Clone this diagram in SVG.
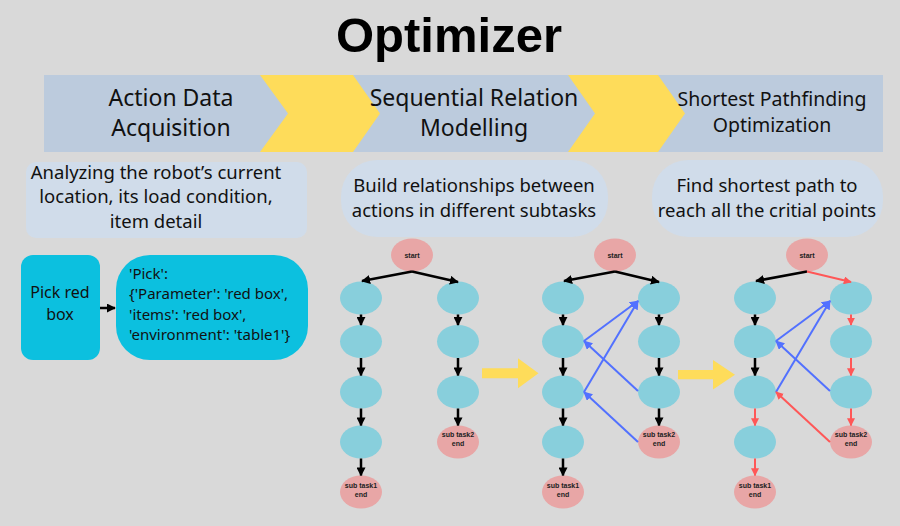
<svg xmlns="http://www.w3.org/2000/svg" width="900" height="526" viewBox="0 0 900 526">
<defs>
<style>
.bg{fill:#d9d9d9}
.band{fill:#bccbdd}
.chev{fill:#fedc5a}
.desc{fill:#d0dcea}
.turq{fill:#0cc0df}
.nb{fill:#88cfdc}
.np{fill:#e8a6a6}
.t{font-family:"Noto Sans","Liberation Sans",sans-serif;fill:#111}
.title{font-family:"Liberation Sans",Arial,sans-serif;font-weight:bold;font-size:49px;fill:#000}
.band-t{font-size:23px;text-anchor:middle}
.desc-t{font-size:18.5px;text-anchor:middle}
.nl{font-family:"Liberation Sans",Arial,sans-serif;font-weight:bold;font-size:7px;fill:#222;text-anchor:middle}
.k{stroke:#000;stroke-width:2.5;fill:none}
.r{stroke:#ff5757;stroke-width:2;fill:none}
.b{stroke:#5271ff;stroke-width:2;fill:none}
.ya{fill:#fedc5a}
</style>
<marker id="ak" viewBox="0 0 10 10" refX="9" refY="5" markerWidth="9" markerHeight="9" markerUnits="userSpaceOnUse" orient="auto"><path d="M0,0 L10,5 L0,10 z" fill="#000"/></marker>
<marker id="ar" viewBox="0 0 10 10" refX="9" refY="5" markerWidth="8" markerHeight="8" markerUnits="userSpaceOnUse" orient="auto"><path d="M0,0 L10,5 L0,10 z" fill="#ff5757"/></marker>
<marker id="ab" viewBox="0 0 10 10" refX="9" refY="5" markerWidth="9" markerHeight="9" markerUnits="userSpaceOnUse" orient="auto"><path d="M0,0 L10,5 L0,10 z" fill="#5271ff"/></marker>
</defs>
<rect class="bg" x="0" y="0" width="900" height="526"/>

<g id="title"><text class="title" x="449" y="52" text-anchor="middle">Optimizer</text></g>

<g id="banner">
<rect class="band" x="44" y="75" width="839" height="77"/>
<polygon class="chev" points="260,75 353,75 380,113.5 353,152 260,152 288,113.5"/>
<polygon class="chev" points="568,75 658,75 685,113.5 658,152 568,152 595,113.5"/>
<text class="t band-t" x="171" y="106">Action Data</text>
<text class="t band-t" x="171" y="136">Acquisition</text>
<text class="t band-t" x="474" y="106">Sequential Relation</text>
<text class="t band-t" x="474" y="136">Modelling</text>
<text class="t" x="772" y="106" font-size="19.5" text-anchor="middle">Shortest Pathfinding</text>
<text class="t" x="772" y="132" font-size="19.5" text-anchor="middle">Optimization</text>
</g>

<g id="desc1">
<rect class="desc" x="26" y="162" width="281" height="76" rx="10"/>
<text class="t desc-t" x="156" y="179">Analyzing the robot’s current</text>
<text class="t desc-t" x="156" y="203">location, its load condition,</text>
<text class="t desc-t" x="156" y="228">item detail</text>
</g>
<g id="desc2">
<rect class="desc" x="341" y="160" width="267" height="77" rx="36"/>
<text class="t desc-t" x="474" y="192">Build relationships between</text>
<text class="t desc-t" x="474" y="217">actions in different subtasks</text>
</g>
<g id="desc3">
<rect class="desc" x="652" y="160" width="231" height="77" rx="36"/>
<text class="t desc-t" x="767" y="192">Find shortest path to</text>
<text class="t desc-t" x="767" y="217">reach all the critial points</text>
</g>

<g id="pick">
<rect class="turq" x="21" y="255" width="79" height="105" rx="12"/>
<text class="t" x="60" y="298" font-size="16" text-anchor="middle">Pick red</text>
<text class="t" x="60" y="320" font-size="16" text-anchor="middle">box</text>
</g>
<g id="code">
<rect class="turq" x="116" y="255" width="192" height="105" rx="34"/>
<text class="t" x="129" y="279" font-size="15">'Pick':</text>
<text class="t" x="129" y="299" font-size="15">{'Parameter': 'red box',</text>
<text class="t" x="129" y="319.5" font-size="15">'items': 'red box',</text>
<text class="t" x="129" y="340" font-size="15">'environment': 'table1'}</text>
</g>

<!-- Graph 1 nodes -->
<g id="g1-start"><ellipse class="np" cx="412" cy="255" rx="21" ry="16.5"/><text class="nl" x="412" y="257.5" font-size="8">start</text></g>
<g id="g1-l1"><ellipse class="nb" cx="361" cy="298" rx="21" ry="16.5"/></g>
<g id="g1-l2"><ellipse class="nb" cx="361" cy="341.5" rx="21" ry="16.5"/></g>
<g id="g1-l3"><ellipse class="nb" cx="361" cy="392" rx="21" ry="16.5"/></g>
<g id="g1-l4"><ellipse class="nb" cx="361" cy="442" rx="21" ry="16.5"/></g>
<g id="g1-l5"><ellipse class="np" cx="361" cy="492" rx="21" ry="16.5"/><text class="nl" x="361" y="488">sub task1</text><text class="nl" x="361" y="497">end</text></g>
<g id="g1-r1"><ellipse class="nb" cx="458" cy="298" rx="21" ry="16.5"/></g>
<g id="g1-r2"><ellipse class="nb" cx="458" cy="341.5" rx="21" ry="16.5"/></g>
<g id="g1-r3"><ellipse class="nb" cx="458" cy="392" rx="21" ry="16.5"/></g>
<g id="g1-r4"><ellipse class="np" cx="458" cy="442" rx="21" ry="16.5"/><text class="nl" x="458" y="437">sub task2</text><text class="nl" x="458" y="446">end</text></g>

<!-- Graph 2 nodes -->
<g id="g2-start"><ellipse class="np" cx="615" cy="255" rx="21" ry="16.5"/><text class="nl" x="615" y="257.5" font-size="8">start</text></g>
<g id="g2-l1"><ellipse class="nb" cx="563" cy="298" rx="21" ry="16.5"/></g>
<g id="g2-l2"><ellipse class="nb" cx="563" cy="341.5" rx="21" ry="16.5"/></g>
<g id="g2-l3"><ellipse class="nb" cx="563" cy="392" rx="21" ry="16.5"/></g>
<g id="g2-l4"><ellipse class="nb" cx="563" cy="442" rx="21" ry="16.5"/></g>
<g id="g2-l5"><ellipse class="np" cx="563" cy="492" rx="21" ry="16.5"/><text class="nl" x="563" y="488">sub task1</text><text class="nl" x="563" y="497">end</text></g>
<g id="g2-r1"><ellipse class="nb" cx="659" cy="298" rx="21" ry="16.5"/></g>
<g id="g2-r2"><ellipse class="nb" cx="659" cy="341.5" rx="21" ry="16.5"/></g>
<g id="g2-r3"><ellipse class="nb" cx="659" cy="392" rx="21" ry="16.5"/></g>
<g id="g2-r4"><ellipse class="np" cx="659" cy="442" rx="21" ry="16.5"/><text class="nl" x="659" y="437">sub task2</text><text class="nl" x="659" y="446">end</text></g>

<!-- Graph 3 nodes -->
<g id="g3-start"><ellipse class="np" cx="807" cy="255" rx="21" ry="16.5"/><text class="nl" x="807" y="257.5" font-size="8">start</text></g>
<g id="g3-l1"><ellipse class="nb" cx="755" cy="298" rx="21" ry="16.5"/></g>
<g id="g3-l2"><ellipse class="nb" cx="755" cy="341.5" rx="21" ry="16.5"/></g>
<g id="g3-l3"><ellipse class="nb" cx="755" cy="392" rx="21" ry="16.5"/></g>
<g id="g3-l4"><ellipse class="nb" cx="755" cy="442" rx="21" ry="16.5"/></g>
<g id="g3-l5"><ellipse class="np" cx="755" cy="492" rx="21" ry="16.5"/><text class="nl" x="755" y="488">sub task1</text><text class="nl" x="755" y="497">end</text></g>
<g id="g3-r1"><ellipse class="nb" cx="851" cy="298" rx="21" ry="16.5"/></g>
<g id="g3-r2"><ellipse class="nb" cx="851" cy="341.5" rx="21" ry="16.5"/></g>
<g id="g3-r3"><ellipse class="nb" cx="851" cy="392" rx="21" ry="16.5"/></g>
<g id="g3-r4"><ellipse class="np" cx="851" cy="442" rx="21" ry="16.5"/><text class="nl" x="851" y="437">sub task2</text><text class="nl" x="851" y="446">end</text></g>

<g id="yellow-arrows">
<polygon class="ya" points="482,368.3 518,368.3 518,358.3 538.5,373.3 518,388.3 518,378.3 482,378.3"/>
<polygon class="ya" points="678,370 713,370 713,360 735,374.7 713,389.5 713,379.3 678,379.3"/>
</g>

<g id="connectors">
<!-- left panel -->
<line class="k" x1="100" y1="308" x2="115" y2="308" marker-end="url(#ak)"/>
<!-- graph 1 -->
<line class="k" x1="412" y1="271.5" x2="362" y2="281" marker-end="url(#ak)"/>
<line class="k" x1="412" y1="271.5" x2="458" y2="282" marker-end="url(#ak)"/>
<line class="k" x1="361" y1="314.5" x2="361" y2="325" marker-end="url(#ak)"/>
<line class="k" x1="361" y1="358" x2="361" y2="375.5" marker-end="url(#ak)"/>
<line class="k" x1="361" y1="408.5" x2="361" y2="425.5" marker-end="url(#ak)"/>
<line class="k" x1="361" y1="458.5" x2="361" y2="475.5" marker-end="url(#ak)"/>
<line class="k" x1="458" y1="314.5" x2="458" y2="325" marker-end="url(#ak)"/>
<line class="k" x1="458" y1="358" x2="458" y2="375.5" marker-end="url(#ak)"/>
<line class="k" x1="458" y1="408.5" x2="458" y2="425.5" marker-end="url(#ak)"/>
<!-- graph 2 -->
<line class="k" x1="615" y1="271.5" x2="564" y2="281" marker-end="url(#ak)"/>
<line class="k" x1="615" y1="271.5" x2="659" y2="282" marker-end="url(#ak)"/>
<line class="k" x1="563" y1="314.5" x2="563" y2="325" marker-end="url(#ak)"/>
<line class="k" x1="563" y1="358" x2="563" y2="375.5" marker-end="url(#ak)"/>
<line class="k" x1="563" y1="408.5" x2="563" y2="425.5" marker-end="url(#ak)"/>
<line class="k" x1="563" y1="458.5" x2="563" y2="475.5" marker-end="url(#ak)"/>
<line class="k" x1="659" y1="314.5" x2="659" y2="325" marker-end="url(#ak)"/>
<line class="k" x1="659" y1="358" x2="659" y2="375.5" marker-end="url(#ak)"/>
<line class="k" x1="659" y1="408.5" x2="659" y2="425.5" marker-end="url(#ak)"/>
<line class="b" x1="584" y1="341" x2="638" y2="301" marker-end="url(#ab)"/>
<line class="b" x1="584" y1="392" x2="638" y2="301" marker-end="url(#ab)"/>
<line class="b" x1="638" y1="391" x2="584" y2="341" marker-end="url(#ab)"/>
<line class="b" x1="638" y1="442" x2="584" y2="392" marker-end="url(#ab)"/>
<!-- graph 3 -->
<line class="k" x1="807" y1="271.5" x2="756" y2="281" marker-end="url(#ak)"/>
<line class="r" x1="807" y1="271.5" x2="851" y2="282" marker-end="url(#ar)"/>
<line class="k" x1="755" y1="314.5" x2="755" y2="325" marker-end="url(#ak)"/>
<line class="k" x1="755" y1="358" x2="755" y2="375.5" marker-end="url(#ak)"/>
<line class="r" x1="755" y1="408.5" x2="755" y2="425.5" marker-end="url(#ar)"/>
<line class="r" x1="755" y1="458.5" x2="755" y2="475.5" marker-end="url(#ar)"/>
<line class="r" x1="851" y1="314.5" x2="851" y2="325" marker-end="url(#ar)"/>
<line class="r" x1="851" y1="358" x2="851" y2="375.5" marker-end="url(#ar)"/>
<line class="r" x1="851" y1="408.5" x2="851" y2="425.5" marker-end="url(#ar)"/>
<line class="b" x1="776" y1="341" x2="830" y2="301" marker-end="url(#ab)"/>
<line class="b" x1="776" y1="392" x2="830" y2="301" marker-end="url(#ab)"/>
<line class="b" x1="830" y1="391" x2="776" y2="341" marker-end="url(#ab)"/>
<line class="r" x1="830" y1="442" x2="776" y2="392" marker-end="url(#ar)"/>
</g>
</svg>
